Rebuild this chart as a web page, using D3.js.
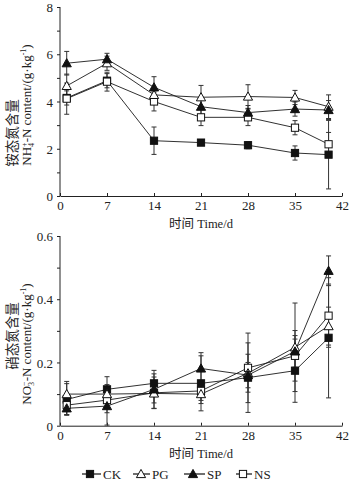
<!DOCTYPE html>
<html><head><meta charset="utf-8">
<script src="https://cdn.jsdelivr.net/npm/d3@7"></script>
<style>body{margin:0;background:#fff}text{font-family:"Liberation Serif","Noto Sans CJK SC",serif;fill:#222}</style>
</head><body>
<svg id="c" width="355" height="485"></svg>
<script>
const days = [1, 7, 14, 21, 28, 35, 40];
const seriesNames = ["CK", "PG", "SP", "NS"];
const xTicks = [0, 7, 14, 21, 28, 35, 42];
const nh4Ticks = [0, 2, 4, 6, 8];
const no3Ticks = [0, 0.2, 0.4, 0.6];

// NH4+-N content (g/kg)
const nh4CK = [4.15, 4.88, 2.34, 2.26, 2.15, 1.82, 1.75];
const nh4PG = [4.66, 5.62, 4.28, 4.18, 4.21, 4.17, 3.78];
const nh4SP = [5.62, 5.79, 4.60, 3.78, 3.53, 3.68, 3.64];
const nh4NS = [4.12, 4.84, 4.00, 3.33, 3.33, 2.89, 2.19];
const nh4CKerr = [0.3, 0.3, 0.58, 0.1, 0.15, 0.3, 1.45];
const nh4PGerr = [0.5, 0.3, 0.3, 0.5, 0.5, 0.3, 0.5];
const nh4SPerr = [0.5, 0.25, 0.45, 0.4, 0.3, 0.3, 0.4];
const nh4NSerr = [0.66, 0.4, 0.4, 0.35, 0.35, 0.3, 0.5];

// NO3--N content (g/kg)
const no3CK = [0.083, 0.115, 0.134, 0.134, 0.152, 0.174, 0.278];
const no3PG = [0.100, 0.100, 0.102, 0.100, 0.166, 0.248, 0.315];
const no3SP = [0.055, 0.062, 0.115, 0.181, 0.160, 0.235, 0.490];
const no3NS = [0.065, 0.081, 0.104, 0.110, 0.183, 0.221, 0.348];
const no3CKerr = [0.05, 0.04, 0.03, 0.087, 0.11, 0.10, 0.19];
const no3PGerr = [0.04, 0.03, 0.03, 0.03, 0.06, 0.14, 0.06];
const no3SPerr = [0.02, 0.06, 0.06, 0.05, 0.04, 0.05, 0.047];
const no3NSerr = [0.03, 0.04, 0.05, 0.03, 0.11, 0.08, 0.1];

const svg = d3.select("#c");
const ink = "#222";

function marker(g, type, x, y) {
  if (type === "CK" || type === "NS") {
    g.append("rect").attr("x", x - 3.6).attr("y", y - 3.6).attr("width", 7.2).attr("height", 7.2)
      .attr("fill", type === "CK" ? "#111" : "#fff").attr("stroke", "#111").attr("stroke-width", 1);
  } else {
    g.append("path").attr("d", `M${x},${y-4.6}L${x+4.6},${y+3.6}L${x-4.6},${y+3.6}Z`)
      .attr("fill", type === "SP" ? "#111" : "#fff").attr("stroke", "#111").attr("stroke-width", 1);
  }
}

function panel(cfg) {
  const x = d3.scaleLinear().domain([0, 42]).range([60, 342]);
  const y = d3.scaleLinear().domain([0, cfg.max]).range([cfg.bottom, cfg.top]);
  const g = svg.append("g");

  // y axis
  const ya = g.append("g").attr("transform", "translate(60,0)")
    .call(d3.axisLeft(y).tickValues(cfg.ticks).tickSize(3).tickFormat(cfg.fmt));
  ya.select(".domain").attr("d", `M0,${cfg.bottom}V${cfg.top}`).attr("stroke", ink);
  ya.selectAll(".tick line").attr("stroke", ink);
  ya.selectAll(".tick text").attr("x", -7).attr("dy", "0.36em").style("font-size", "13px").style("font-family", "Liberation Serif");
  g.append("g").attr("transform", "translate(60,0)")
    .call(d3.axisLeft(y).tickValues(cfg.minor).tickSize(3).tickFormat(""))
    .call(s => s.select(".domain").remove()).selectAll("line").attr("stroke", ink);

  // x axis
  const xa = g.append("g").attr("transform", `translate(0,${cfg.bottom})`)
    .call(d3.axisBottom(x).tickValues(xTicks).tickSizeInner(-3).tickSizeOuter(0));
  xa.select(".domain").attr("stroke", ink);
  xa.selectAll(".tick line").attr("stroke", ink);
  xa.selectAll(".tick text").attr("y", 5).attr("dy", "0.71em").style("font-size", "13px").style("font-family", "Liberation Serif");

  g.append("text").attr("x", 201).attr("y", cfg.bottom + 32).attr("text-anchor", "middle")
    .style("font-size", "12.5px").text("时间 Time/d");

  // y labels
  g.append("text").attr("transform", `translate(17,${cfg.cnY}) rotate(-90)`).attr("text-anchor", "middle")
    .style("font-size", "13.5px").text(cfg.cn);
  const en = g.append("text").attr("transform", `translate(31,${cfg.enY}) rotate(-90)`).attr("text-anchor", "middle")
    .style("font-size", "13px");
  cfg.en(en);

  const line = d3.line().x((d, i) => x(days[i])).y(d => y(d));
  const data = cfg.data;
  seriesNames.forEach(s => {
    g.append("path").attr("d", line(data[s].v)).attr("fill", "none").attr("stroke", "#1a1a1a").attr("stroke-width", 0.9);
  });
  seriesNames.forEach(s => {
    data[s].v.forEach((v, i) => {
      const e = data[s].e[i];
      const cx = x(days[i]);
      g.append("line").attr("x1", cx).attr("x2", cx).attr("y1", y(v - e)).attr("y2", y(v + e))
        .attr("stroke", "#333").attr("stroke-width", 1);
      [v - e, v + e].forEach(w => g.append("line").attr("x1", cx - 2.5).attr("x2", cx + 2.5)
        .attr("y1", y(w)).attr("y2", y(w)).attr("stroke", "#333").attr("stroke-width", 1));
    });
  });
  ["CK", "NS", "PG", "SP"].forEach(s => {
    data[s].v.forEach((v, i) => marker(g, s, x(days[i]), y(v)));
  });
}

panel({
  max: 8, top: 7, bottom: 196, ticks: nh4Ticks, minor: [1, 3, 5, 7], fmt: d3.format("d"),
  cn: "铵态氮含量", cnY: 133, enY: 105,
  en: t => {
    t.append("tspan").text("NH");
    t.append("tspan").attr("font-size", "8px").attr("dy", 3).text("4");
    t.append("tspan").attr("font-size", "8px").attr("dy", -7).attr("dx", -4).text("+");
    t.append("tspan").attr("dy", 4).text("-N content/(g·kg");
    t.append("tspan").attr("font-size", "8px").attr("dy", -5).text("-1");
    t.append("tspan").attr("dy", 5).text(")");
  },
  data: {CK: {v: nh4CK, e: nh4CKerr}, PG: {v: nh4PG, e: nh4PGerr}, SP: {v: nh4SP, e: nh4SPerr}, NS: {v: nh4NS, e: nh4NSerr}}
});

panel({
  max: 0.6, top: 236, bottom: 425.7, ticks: no3Ticks, minor: [0.1, 0.3, 0.5], fmt: d => d === 0 ? "0" : d3.format(".1f")(d),
  cn: "硝态氮含量", cnY: 336, enY: 344,
  en: t => {
    t.append("tspan").text("NO");
    t.append("tspan").attr("font-size", "8px").attr("dy", 3).text("3");
    t.append("tspan").attr("font-size", "8px").attr("dy", -7).attr("dx", -4).text("−");
    t.append("tspan").attr("dy", 4).text("-N content/(g·kg");
    t.append("tspan").attr("font-size", "8px").attr("dy", -5).text("-1");
    t.append("tspan").attr("dy", 5).text(")");
  },
  data: {CK: {v: no3CK, e: no3CKerr}, PG: {v: no3PG, e: no3PGerr}, SP: {v: no3SP, e: no3SPerr}, NS: {v: no3NS, e: no3NSerr}}
});

// legend
const leg = svg.append("g");
const legendPos = [{s: "CK", x1: 82, x2: 101, m: 90}, {s: "PG", x1: 133, x2: 150, m: 141}, {s: "SP", x1: 184, x2: 205, m: 193}, {s: "NS", x1: 236, x2: 252, m: 243}];
legendPos.forEach(p => {
  leg.append("line").attr("x1", p.x1).attr("x2", p.x2).attr("y1", 474).attr("y2", 474).attr("stroke", "#111").attr("stroke-width", 1.2);
  marker(leg, p.s, p.m, 474);
  leg.append("text").attr("x", p.x2 + 2).attr("y", 478.5).style("font-size", "13px").text(p.s);
});
</script>
</body></html>
